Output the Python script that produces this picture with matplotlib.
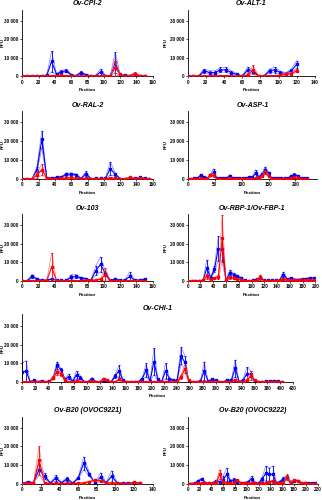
import matplotlib
matplotlib.use('Agg')
import matplotlib.pyplot as plt
from matplotlib.ticker import FuncFormatter, MultipleLocator
import numpy as np

plt.rcParams['font.family'] = ['Liberation Sans', 'DejaVu Sans']

# ---------------- data ----------------
cpi_pos = [0, 6, 12, 18, 24, 30, 36, 42, 48, 54, 60, 66, 72, 78, 84, 90, 96, 102, 108, 114, 120, 126, 132, 138, 144, 150]
cpi_blue = [300, 300, 300, 300, 300, 500, 8000, 1000, 2500, 3000, 800, 300, 2000, 800, 300, 300, 2300, 300, 300, 7500, 800, 600, 400, 1000, 400, 400]
cpi_blue_sd = [200, 200, 200, 200, 200, 300, 5500, 300, 700, 800, 300, 200, 600, 300, 200, 200, 1800, 200, 200, 5500, 300, 200, 200, 500, 200, 200]
cpi_red = [100, 100, 100, 100, 100, 100, 300, 200, 500, 300, 200, 100, 200, 100, 100, 100, 300, 100, 100, 4700, 1000, 300, 200, 1500, 200, 100]
cpi_red_sd = [100, 100, 100, 100, 100, 100, 200, 100, 300, 200, 100, 100, 100, 100, 100, 100, 200, 100, 100, 4500, 500, 200, 100, 700, 100, 100]

alt_pos = [0, 6, 12, 18, 24, 30, 36, 42, 48, 54, 60, 66, 72, 78, 84, 90, 96, 102, 108, 114, 120]
alt_blue = [100, 100, 100, 3000, 2000, 2000, 3500, 3500, 2000, 1000, 100, 3500, 2500, 100, 100, 3000, 3500, 2000, 1500, 3000, 6500]
alt_blue_sd = [100, 100, 100, 1000, 1000, 1000, 1300, 1300, 1000, 500, 100, 1500, 1000, 100, 100, 1000, 1500, 800, 500, 1000, 2000]
alt_red = [100, 100, 100, 200, 200, 200, 300, 300, 200, 200, 100, 500, 3500, 200, 100, 300, 300, 500, 1200, 1500, 3000]
alt_red_sd = [100, 100, 100, 100, 100, 100, 100, 100, 100, 100, 100, 300, 2500, 100, 100, 100, 100, 300, 500, 500, 800]

ral_pos = [0, 6, 12, 18, 24, 30, 36, 42, 48, 54, 60, 66, 72, 78, 84, 90, 96, 102, 108, 114, 120, 126, 132, 138, 144, 150, 156]
ral_blue = [100, 100, 100, 5000, 21000, 500, 500, 800, 1000, 2500, 2500, 2300, 200, 2800, 200, 300, 300, 300, 5500, 2500, 200, 200, 300, 300, 800, 300, 200]
ral_blue_sd = [100, 100, 100, 1500, 4500, 200, 200, 300, 300, 700, 700, 500, 100, 1200, 100, 100, 100, 100, 3500, 700, 100, 100, 100, 100, 300, 100, 100]
ral_red = [100, 100, 100, 2000, 5000, 300, 200, 200, 300, 500, 800, 300, 100, 300, 100, 100, 100, 100, 700, 300, 100, 100, 800, 200, 500, 200, 100]
ral_red_sd = [100, 100, 100, 1500, 3000, 200, 100, 100, 100, 200, 300, 100, 100, 100, 100, 100, 100, 100, 300, 100, 100, 100, 300, 100, 200, 100, 100]

asp_pos = [0, 6, 12, 18, 24, 30, 36, 42, 48, 54, 60, 66, 72, 78, 84, 90, 96, 102, 108, 114, 120, 126, 132, 138, 144, 150, 156, 162, 168, 174, 180, 186, 192, 198, 204, 210, 216, 222]
asp_blue = [100, 100, 300, 300, 2000, 800, 300, 2000, 3500, 300, 300, 300, 300, 1800, 300, 300, 300, 500, 500, 800, 800, 3000, 1000, 2500, 5000, 3000, 300, 300, 300, 500, 300, 300, 1500, 2300, 1500, 300, 300, 300]
asp_blue_sd = [100, 100, 100, 100, 500, 300, 100, 500, 2000, 100, 100, 100, 100, 500, 100, 100, 100, 200, 200, 300, 300, 2000, 500, 800, 1500, 800, 100, 100, 100, 200, 100, 100, 500, 700, 500, 100, 100, 100]
asp_red = [100, 100, 100, 100, 300, 200, 100, 2000, 2000, 100, 100, 100, 100, 500, 100, 100, 100, 100, 100, 200, 200, 300, 300, 1500, 3500, 1500, 100, 100, 100, 200, 100, 100, 300, 800, 300, 100, 100, 100]
asp_red_sd = [100, 100, 100, 100, 100, 100, 100, 500, 800, 100, 100, 100, 100, 200, 100, 100, 100, 100, 100, 100, 100, 200, 200, 500, 1000, 500, 100, 100, 100, 100, 100, 100, 100, 300, 100, 100, 100, 100]

o103_pos = [0, 6, 12, 18, 24, 30, 36, 42, 48, 54, 60, 66, 72, 78, 84, 90, 96, 102, 108, 114, 120, 126, 132, 138, 144, 150]
o103_blue = [100, 100, 2500, 1000, 300, 500, 1000, 300, 300, 300, 2000, 2500, 1500, 1200, 300, 5500, 9000, 4000, 300, 1000, 300, 500, 2500, 300, 500, 1000]
o103_blue_sd = [100, 100, 1000, 300, 100, 200, 300, 100, 100, 100, 1500, 1000, 500, 400, 100, 2500, 4000, 1000, 100, 500, 100, 200, 2500, 100, 200, 300]
o103_red = [100, 100, 200, 200, 100, 200, 7500, 200, 100, 100, 200, 200, 200, 300, 300, 500, 1000, 3500, 200, 200, 100, 200, 200, 100, 100, 200]
o103_red_sd = [100, 100, 100, 100, 100, 100, 7500, 100, 100, 100, 100, 100, 100, 100, 100, 200, 300, 3500, 100, 100, 100, 100, 100, 100, 100, 100]

rbp_pos = [0, 6, 12, 18, 24, 30, 36, 42, 48, 54, 60, 66, 72, 78, 84, 90, 96, 102, 108, 114, 120, 126, 132, 138, 144, 150, 156, 162, 168, 174, 180, 186, 192, 198]
rbp_blue = [100, 100, 100, 100, 300, 7000, 1500, 6500, 17500, 17000, 200, 4500, 3500, 2500, 1500, 300, 200, 300, 1000, 1500, 300, 300, 300, 300, 500, 3500, 1000, 1500, 800, 800, 1000, 1200, 1500, 1500]
rbp_blue_sd = [100, 100, 100, 100, 100, 4500, 500, 1500, 6500, 6000, 100, 1500, 700, 500, 500, 100, 100, 100, 300, 500, 100, 100, 100, 100, 200, 1500, 300, 500, 300, 300, 300, 400, 500, 500]
rbp_red = [100, 100, 100, 100, 300, 2500, 500, 1500, 2000, 23000, 300, 2000, 1500, 1000, 800, 200, 100, 200, 300, 2000, 200, 200, 200, 200, 500, 1000, 500, 300, 300, 300, 300, 300, 300, 300]
rbp_red_sd = [100, 100, 100, 100, 100, 1500, 200, 500, 1000, 12500, 100, 800, 500, 300, 300, 100, 100, 100, 100, 1500, 100, 100, 100, 100, 200, 500, 200, 100, 100, 100, 100, 100, 100, 100]

chi_pos = [0, 6, 12, 18, 24, 30, 36, 42, 48, 54, 60, 66, 72, 78, 84, 90, 96, 102, 108, 114,
           120, 126, 132, 138, 144, 150, 156, 162, 168, 174, 180, 186, 192, 198, 204, 210, 216, 222, 228, 234,
           240, 246, 252, 258, 264, 270, 276, 282, 288, 294, 300, 306, 312, 318, 324, 330, 336, 342, 348, 354,
           360, 366, 372, 378, 384, 390, 396, 402]
chi_blue = [5500, 6000, 300, 1000, 300, 700, 300, 500, 2500, 9000, 6500, 1500, 3000, 500, 4000, 2500, 300, 300, 2000, 300,
            300, 800, 500, 300, 3500, 6000, 1000, 300, 300, 300, 300, 2000, 6500, 500, 11000, 1500, 300, 6000, 2000, 1000,
            1000, 14000, 10500, 500, 300, 300, 500, 6000, 500, 1500, 1000, 300, 300, 1000, 1000, 7500, 300, 1000, 4500, 4500,
            500, 300, 300, 500, 500, 800, 500, 300]
chi_blue_sd = [5000, 5500, 200, 300, 100, 300, 100, 200, 1000, 2000, 1000, 500, 1500, 200, 2000, 1000, 100, 100, 500, 100,
               100, 300, 200, 100, 1000, 3000, 300, 100, 100, 100, 100, 500, 3500, 200, 7000, 500, 100, 4000, 500, 300,
               300, 4500, 3500, 200, 100, 100, 200, 5000, 200, 500, 300, 100, 100, 300, 300, 4500, 100, 300, 3500, 1500,
               200, 100, 100, 200, 200, 300, 200, 100]
chi_red = [200, 300, 100, 200, 100, 200, 100, 200, 2500, 5500, 4500, 1000, 300, 200, 800, 300, 100, 100, 800, 100,
           100, 2000, 1000, 200, 300, 1500, 200, 100, 100, 100, 100, 300, 300, 100, 300, 200, 100, 300, 200, 100,
           300, 3000, 7000, 1000, 100, 100, 200, 300, 100, 300, 200, 100, 100, 300, 300, 1000, 100, 300, 1000, 3500,
           1000, 300, 100, 100, 100, 200, 100, 100]
chi_red_sd = [100, 100, 100, 100, 100, 100, 100, 100, 1000, 1500, 1000, 300, 100, 100, 300, 100, 100, 100, 300, 100,
              100, 500, 300, 100, 100, 500, 100, 100, 100, 100, 100, 100, 100, 100, 100, 100, 100, 100, 100, 100,
              100, 1000, 2000, 300, 100, 100, 100, 100, 100, 100, 100, 100, 100, 100, 100, 300, 100, 100, 300, 2500,
              300, 100, 100, 100, 100, 100, 100, 100]

b21_pos = [0, 6, 12, 18, 24, 30, 36, 42, 48, 54, 60, 66, 72, 78, 84, 90, 96, 102, 108, 114, 120, 126]
b21_blue = [100, 1000, 500, 7500, 4000, 300, 3000, 500, 2500, 300, 3000, 11000, 5000, 300, 3500, 500, 4000, 300, 300, 300, 500, 300]
b21_blue_sd = [100, 300, 200, 3000, 1500, 100, 1500, 200, 1000, 100, 500, 3500, 1000, 100, 2500, 200, 3000, 100, 100, 100, 200, 100]
b21_red = [100, 300, 200, 12500, 300, 100, 200, 100, 200, 100, 200, 500, 1000, 2000, 1500, 300, 500, 200, 100, 100, 800, 300]
b21_red_sd = [100, 100, 100, 7500, 100, 100, 100, 100, 100, 100, 100, 200, 300, 500, 500, 100, 200, 100, 100, 100, 200, 100]

b22_pos = [0, 6, 12, 18, 24, 30, 36, 42, 48, 54, 60, 66, 72, 78, 84, 90, 96, 102, 108, 114, 120, 126, 132, 138, 144, 150, 156, 162, 168, 174, 180, 186, 192, 198, 204, 210, 216]
b22_blue = [100, 100, 300, 1500, 2500, 500, 500, 300, 1500, 1000, 2000, 5000, 1500, 2000, 1000, 500, 500, 1000, 2500, 500, 300, 2500, 5500, 5000, 5000, 500, 1000, 2500, 3500, 1000, 1500, 1500, 500, 300, 300, 300, 300]
b22_blue_sd = [100, 100, 100, 500, 500, 200, 200, 100, 500, 300, 2000, 3500, 500, 1000, 300, 200, 200, 300, 1500, 200, 100, 1000, 4000, 3500, 4500, 200, 300, 1000, 1000, 300, 500, 500, 200, 100, 100, 100, 100]
b22_red = [100, 100, 100, 300, 300, 200, 500, 200, 300, 5000, 1000, 300, 300, 300, 2000, 200, 200, 300, 300, 200, 100, 300, 300, 1000, 1500, 300, 200, 300, 3500, 300, 2000, 1500, 500, 200, 100, 100, 100]
b22_red_sd = [100, 100, 100, 100, 100, 100, 200, 100, 100, 2500, 300, 100, 100, 100, 500, 100, 100, 100, 100, 100, 100, 100, 100, 300, 500, 100, 100, 100, 1500, 100, 500, 500, 200, 100, 100, 100, 100]

titles = ['Ov-CPI-2', 'Ov-ALT-1', 'Ov-RAL-2', 'Ov-ASP-1', 'Ov-103',
          'Ov-RBP-1/Ov-FBP-1', 'Ov-CHI-1', 'Ov-B20 (OVOC9221)', 'Ov-B20 (OVOC9222)']
y_ticks = [0, 10000, 20000, 30000]

# ---------------- layout ----------------
W, H = 322, 500
def rect(x0, x1, ybot, height_px):
    return [x0 / W, 1 - ybot / H, (x1 - x0) / W, height_px / H]

# (title, x, blue, blue sd, red, red sd, axes rect, x max, x tick step, RFU label x px)
panels = [
    (titles[0], cpi_pos, cpi_blue, cpi_blue_sd, cpi_red, cpi_red_sd, (22.3, 152.7, 76.3, 66.7), 160, 20, 4.5),
    (titles[1], alt_pos, alt_blue, alt_blue_sd, alt_red, alt_red_sd, (187.7, 315.0, 76.3, 66.7), 140, 20, 167.5),
    (titles[2], ral_pos, ral_blue, ral_blue_sd, ral_red, ral_red_sd, (22.3, 152.7, 179.0, 68.0), 160, 20, 4.5),
    (titles[3], asp_pos, asp_blue, asp_blue_sd, asp_red, asp_red_sd, (187.7, 317.0, 179.0, 68.0), 240, 50, 167.5),
    (titles[4], o103_pos, o103_blue, o103_blue_sd, o103_red, o103_red_sd, (22.3, 152.7, 281.0, 66.8), 160, 20, 4.5),
    (titles[5], rbp_pos, rbp_blue, rbp_blue_sd, rbp_red, rbp_red_sd, (187.7, 315.3, 281.0, 66.8), 200, 20, 167.5),
    (titles[6], chi_pos, chi_blue, chi_blue_sd, chi_red, chi_red_sd, (22.3, 293.3, 382.3, 68.0), 420, 20, 4.5),
    (titles[7], b21_pos, b21_blue, b21_blue_sd, b21_red, b21_red_sd, (22.3, 152.7, 483.7, 67.2), 140, 20, 4.5),
    (titles[8], b22_pos, b22_blue, b22_blue_sd, b22_red, b22_red_sd, (187.7, 317.7, 483.7, 67.2), 220, 20, 167.5),
]

BLUE = '#0000ff'
LBLUE = '#7f7fff'
RED = '#ff0000'
LRED = '#ff8080'

fig = plt.figure(figsize=(W / 100, H / 100), dpi=100)
fmt = FuncFormatter(lambda v, p: '0' if v == 0 else '{:,.0f}'.format(v).replace(',', ' '))

def draw_series(ax, x, m, sd, col, lcol, z):
    x = np.asarray(x, float)
    m = np.asarray(m, float)
    sd = np.asarray(sd, float)
    lo = np.clip(m - sd, 0, None)
    hi = m + sd
    ax.plot(x, hi, color=lcol, lw=0.5, zorder=z)
    ax.plot(x, lo, color=lcol, lw=0.5, zorder=z)
    ax.errorbar(x, m, yerr=[m - lo, hi - m], fmt='none', ecolor=col,
                elinewidth=0.6, capsize=1.0, capthick=0.6, zorder=z + 0.1)
    ax.plot(x, m, color=col, lw=0.8, marker='s', ms=1.9, mec=col, mfc=col,
            zorder=z + 0.2)

for (title, pos, b, bsd, r, rsd, rc, xmax, xstep, labx) in panels:
    x0, x1, ybot, hpx = rc
    ax = fig.add_axes(rect(x0, x1, ybot, hpx))
    draw_series(ax, pos, b, bsd, BLUE, LBLUE, 2)
    draw_series(ax, pos, r, rsd, RED, LRED, 3)
    ax.set_xlim(0, xmax)
    ax.set_ylim(0, 36000)
    ax.set_yticks(y_ticks)
    ax.yaxis.set_major_formatter(fmt)
    ax.xaxis.set_major_locator(MultipleLocator(xstep))
    for s in ['top', 'right']:
        ax.spines[s].set_visible(False)
    for s in ['left', 'bottom']:
        ax.spines[s].set_linewidth(0.6)
    ax.tick_params(axis='both', length=1.5, width=0.5, pad=1.0, labelsize=3.3)
    for lab in ax.get_xticklabels() + ax.get_yticklabels():
        lab.set_fontweight('bold')
    ax.set_title(title, fontsize=5.0, fontweight='bold', fontstyle='italic', pad=3.0)
    ax.set_xlabel('Position', fontsize=3.2, fontweight='bold', labelpad=2.5)
    ax.set_ylabel('RFU', fontsize=3.2, fontweight='bold')
    ax.yaxis.set_label_coords((labx - x0) / (x1 - x0), 0.5)

fig.savefig('out.png', dpi=100)
